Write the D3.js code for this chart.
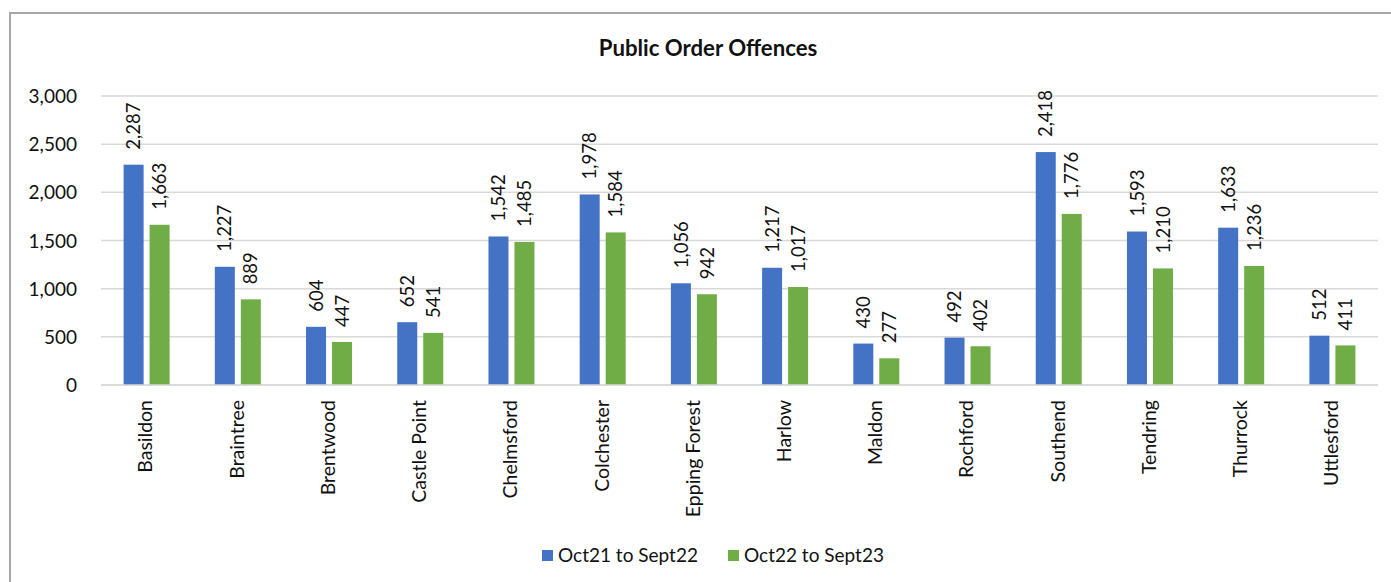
<!DOCTYPE html>
<html>
<head>
<meta charset="utf-8">
<script src="https://cdn.jsdelivr.net/npm/d3@7"></script>
<style>
  html, body { margin: 0; padding: 0; background: #fff; }
  svg { display: block; }
  text { font-family: Lato, "Open Sans", sans-serif; fill: #111; }
</style>
</head>
<body>
<svg id="chart" width="1391" height="582"></svg>
<script>
const categories = ["Basildon", "Braintree", "Brentwood", "Castle Point", "Chelmsford", "Colchester", "Epping Forest", "Harlow", "Maldon", "Rochford", "Southend", "Tendring", "Thurrock", "Uttlesford"];
const seriesNames = ["Oct21 to Sept22", "Oct22 to Sept23"];
const series2122 = [2287, 1227, 604, 652, 1542, 1978, 1056, 1217, 430, 492, 2418, 1593, 1633, 512];
const series2223 = [1663, 889, 447, 541, 1485, 1584, 942, 1017, 277, 402, 1776, 1210, 1236, 411];
const yTicks = [0, 500, 1000, 1500, 2000, 2500, 3000];
const colors = ["#4472C4", "#70AD47"];
const title = "Public Order Offences";

const svg = d3.select("#chart");
const fmt = d3.format(",");

// outer frame
svg.append("rect")
  .attr("x", 10).attr("y", 13).attr("width", 1420).attr("height", 640)
  .attr("fill", "none").attr("stroke", "#a8a8a8").attr("stroke-width", 2);

const plot = { left: 101, right: 1378, top: 96, bottom: 385 };

const x0 = d3.scaleBand().domain(categories).range([plot.left, plot.right]).padding(0);
const x1 = d3.scaleBand().domain(seriesNames).range([0, 46]).paddingInner(6 / 26).paddingOuter(0);
const y = d3.scaleLinear().domain([0, 3000]).range([plot.bottom, plot.top]);

// gridlines
svg.append("g").selectAll("line").data(yTicks).join("line")
  .attr("x1", plot.left).attr("x2", plot.right)
  .attr("y1", d => y(d)).attr("y2", d => y(d))
  .attr("stroke", "#d9d9d9").attr("stroke-width", 1.5);

// y axis labels
const yAxis = d3.axisLeft(y).tickValues(yTicks).tickFormat(fmt).tickSize(0).tickPadding(0);
const gy = svg.append("g").attr("transform", `translate(77,0)`).call(yAxis);
gy.select(".domain").remove();
gy.selectAll("text").attr("font-size", 19).attr("font-family", "Lato").attr("fill", "#111").attr("dy", "0.35em");

const data = categories.map((c, i) => ({ cat: c, vals: [series2122[i], series2223[i]] }));

const groups = svg.append("g").selectAll("g").data(data).join("g")
  .attr("transform", d => `translate(${x0(d.cat) + x0.bandwidth() / 2 - 23},0)`);

groups.selectAll("rect").data(d => d.vals.map((v, j) => ({ s: seriesNames[j], v, j }))).join("rect")
  .attr("x", d => x1(d.s)).attr("width", x1.bandwidth())
  .attr("y", d => y(d.v)).attr("height", d => y(0) - y(d.v))
  .attr("fill", d => colors[d.j]);

groups.selectAll("text.val").data(d => d.vals.map((v, j) => ({ s: seriesNames[j], v, j }))).join("text")
  .attr("class", "val")
  .attr("transform", d => `translate(${x1(d.s) + x1.bandwidth() / 2},${y(d.v) - 15}) rotate(-90)`)
  .attr("text-anchor", "start").attr("dy", "0.36em")
  .attr("font-size", 18.5)
  .text(d => fmt(d.v));

// x axis baseline
svg.append("line").attr("x1", plot.left).attr("x2", plot.right)
  .attr("y1", y(0)).attr("y2", y(0)).attr("stroke", "#d9d9d9").attr("stroke-width", 1.5);

// category labels
const xAxis = d3.axisBottom(x0).tickSize(0).tickPadding(0);
const gx = svg.append("g").attr("transform", `translate(0,${y(0)})`).call(xAxis);
gx.select(".domain").remove();
gx.selectAll("text")
  .attr("font-size", 19.5).attr("font-family", "Lato").attr("fill", "#111")
  .attr("transform", "translate(-1,15) rotate(-90)")
  .attr("text-anchor", "end").attr("x", 0).attr("y", 0).attr("dy", "0.35em");

// title
svg.append("text").attr("x", 708).attr("y", 56).attr("text-anchor", "middle")
  .attr("font-weight", "bold").attr("font-size", 22.2).text(title);

// legend
const legend = svg.append("g").attr("transform", "translate(542,550)");
const items = legend.selectAll("g").data(seriesNames).join("g")
  .attr("transform", (d, i) => `translate(${i * 186},0)`);
items.append("rect").attr("width", 11).attr("height", 11).attr("fill", (d, i) => colors[i]);
items.append("text").attr("x", 16).attr("y", 12).attr("font-size", 19).text(d => d);
</script>
</body>
</html>
